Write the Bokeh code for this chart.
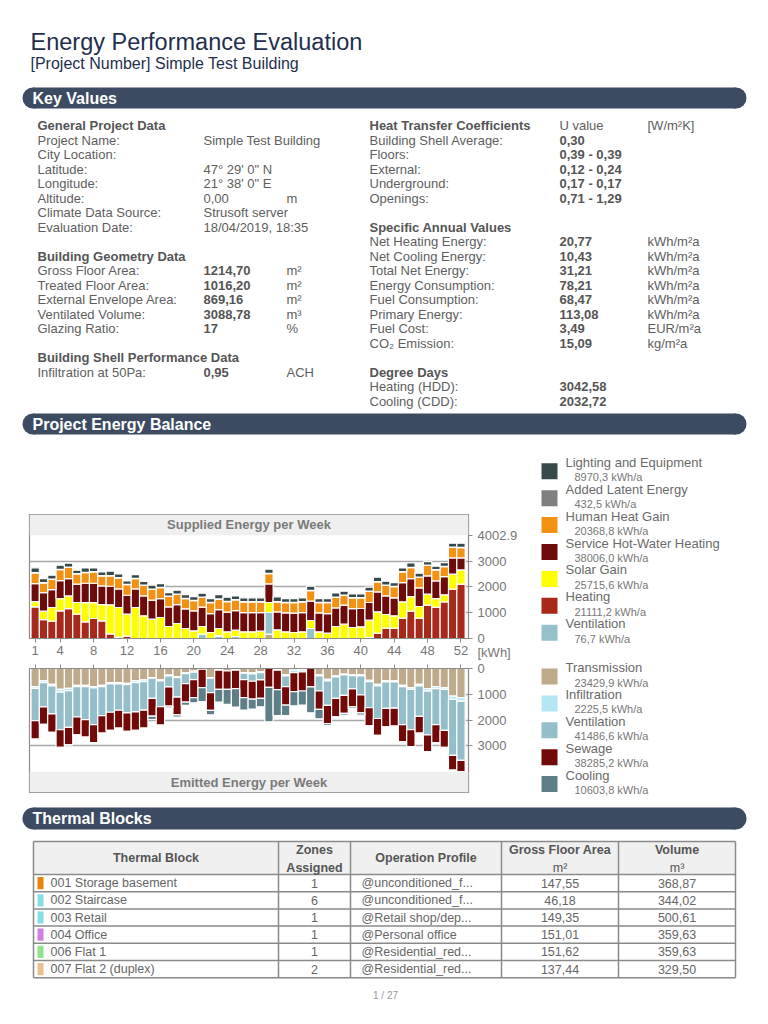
from bokeh.plotting import figure
from bokeh.layouts import column, row
from bokeh.models import Range1d, FixedTicker, BoxAnnotation, Label, ColumnDataSource
from bokeh.core.properties import value
from bokeh.embed import file_html
from bokeh.resources import INLINE

FONT = "Liberation Sans"
NAVY = "#1f2f4d"
BAND = "#3c4b61"
LBL = "#5e5e5e"
VAL = "#555555"

# ---------------- text content ----------------
TITLE = "Energy Performance Evaluation"
SUBTITLE = "[Project Number] Simple Test Building"

LEFT_HEADS = [(0, "General Project Data"), (9, "Building Geometry Data"), (16, "Building Shell Performance Data")]
LEFT_ROWS = [
    (1, "Project Name:", "Simple Test Building", "", False),
    (2, "City Location:", "", "", False),
    (3, "Latitude:", "47° 29' 0\" N", "", False),
    (4, "Longitude:", "21° 38' 0\" E", "", False),
    (5, "Altitude:", "0,00", "m", False),
    (6, "Climate Data Source:", "Strusoft server", "", False),
    (7, "Evaluation Date:", "18/04/2019, 18:35", "", False),
    (10, "Gross Floor Area:", "1214,70", "m²", True),
    (11, "Treated Floor Area:", "1016,20", "m²", True),
    (12, "External Envelope Area:", "869,16", "m²", True),
    (13, "Ventilated Volume:", "3088,78", "m³", True),
    (14, "Glazing Ratio:", "17", "%", True),
    (17, "Infiltration at 50Pa:", "0,95", "ACH", True),
]
RIGHT_HEADS = [(0, "Heat Transfer Coefficients"), (7, "Specific Annual Values"), (17, "Degree Days")]
RIGHT_ROWS = [
    (0, "", "U value", "[W/m²K]", False),
    (1, "Building Shell Average:", "0,30", "", True),
    (2, "Floors:", "0,39 - 0,39", "", True),
    (3, "External:", "0,12 - 0,24", "", True),
    (4, "Underground:", "0,17 - 0,17", "", True),
    (5, "Openings:", "0,71 - 1,29", "", True),
    (8, "Net Heating Energy:", "20,77", "kWh/m²a", True),
    (9, "Net Cooling Energy:", "10,43", "kWh/m²a", True),
    (10, "Total Net Energy:", "31,21", "kWh/m²a", True),
    (11, "Energy Consumption:", "78,21", "kWh/m²a", True),
    (12, "Fuel Consumption:", "68,47", "kWh/m²a", True),
    (13, "Primary Energy:", "113,08", "kWh/m²a", True),
    (14, "Fuel Cost:", "3,49", "EUR/m²a", True),
    (15, "CO₂ Emission:", "15,09", "kg/m²a", True),
    (18, "Heating (HDD):", "3042,58", "", True),
    (19, "Cooling (CDD):", "2032,72", "", True),
]

# ---------------- chart data (kWh per week) ----------------
WEEKS = list(range(1, 53))
WEEK_TICKS = [1, 4, 8, 12, 16, 20, 24, 28, 32, 36, 40, 44, 48, 52]
Y_TICKS_TOP = [0, 1000, 2000, 3000, 4002.9]
Y_TICKS_BOTTOM = [0, 1000, 2000, 3000]
Y_MAX = 4002.9
Y_UNIT = "[kWh]"

trans_gain = [0]*28 + [168] + [0]*23
vent_supplied = [0]*20 + [168, 0, 103, 0, 77, 0, 0, 0, 839, 0, 0, 0, 0, 387] + [0]*18
heating = [1226, 735, 671, 1071, 1161, 942, 645, 774, 684, 181,
           52, 90, 0, 0, 0, 0, 0, 0, 0, 0,
           0, 0, 0, 0, 0, 0, 0, 0, 0, 0,
           0, 0, 0, 0, 0, 0, 0, 0, 0, 0,
           39, 206, 400, 400, 787, 1058, 787, 1290, 1213, 1419,
           1909, 2103]
solar = [206, 323, 529, 477, 490, 452, 748, 619, 632, 1122,
         1148, 851, 1200, 877, 748, 813, 464, 581, 387, 297,
         297, 232, 284, 258, 245, 258, 258, 284, 387, 335,
         258, 232, 258, 310, 258, 206, 464, 555, 426, 452,
         671, 826, 529, 477, 632, 568, 452, 426, 335, 271,
         581, 555]
hot_water = [697, 722, 697, 697, 671, 710, 748, 748, 722, 722,
             722, 735, 722, 774, 735, 735, 761, 735, 761, 774,
             748, 735, 735, 761, 761, 748, 748, 722, 722, 697,
             735, 748, 748, 748, 735, 761, 722, 735, 735, 710,
             684, 774, 722, 697, 748, 697, 722, 710, 684, 710,
             632, 464]
human = [413, 374, 400, 426, 439, 400, 413, 439, 387, 400,
         426, 413, 400, 413, 426, 426, 413, 400, 400, 400,
         387, 426, 400, 413, 413, 413, 413, 413, 400, 387,
         400, 413, 413, 413, 400, 426, 413, 387, 413, 413,
         439, 387, 413, 439, 413, 426, 413, 413, 426, 387,
         413, 400]
latent = [10, 8, 8, 10, 8, 8, 10, 8, 8, 10,
          8, 8, 8, 8, 8, 8, 8, 8, 8, 8,
          8, 8, 10, 8, 8, 8, 8, 8, 10, 10,
          8, 8, 8, 8, 8, 8, 8, 8, 8, 8,
          8, 10, 8, 8, 8, 10, 8, 8, 8, 8,
          8, 10]
lighting = [184, 160, 147, 158, 147, 134, 171, 147, 147, 171,
            147, 134, 142, 142, 147, 147, 134, 147, 147, 147,
            147, 147, 171, 160, 147, 147, 147, 147, 158, 184,
            147, 147, 147, 160, 147, 142, 160, 147, 147, 147,
            147, 171, 147, 147, 147, 171, 147, 134, 134, 147,
            147, 158]

transmission = [704, 482, 613, 808, 769, 652, 652, 704, 652, 548,
                548, 574, 482, 443, 351, 442, 260, 312, 169, 104,
                26, 351, 65, 91, 65, 156, 169, 117, 0, 65,
                247, 65, 52, 0, 247, 416, 286, 221, 247, 247,
                455, 611, 481, 482, 652, 743, 613, 782, 704, 743,
                1069, 1134]
infiltration = [65, 65, 65, 104, 91, 52, 52, 52, 52, 52,
                52, 52, 65, 65, 26, 39, 26, 39, 26, 39,
                0, 26, 0, 0, 0, 26, 39, 39, 0, 0,
                39, 91, 78, 0, 39, 65, 39, 26, 26, 39,
                52, 65, 39, 39, 52, 65, 65, 91, 78, 65,
                130, 130]
vent_emitted = [1252, 939, 1082, 1460, 1421, 1174, 1278, 1421, 1121, 1095,
                1017, 1095, 1134, 1108, 780, 1001, 429, 754, 390, 286,
                0, 559, 0, 0, 0, 247, 286, 286, 0, 0,
                416, 0, 0, 0, 585, 949, 832, 793, 520, 741,
                1014, 1261, 1027, 1017, 1473, 1565, 1174, 1695, 1395, 1591,
                2165, 2295]
sewage = [717, 678, 717, 678, 678, 691, 678, 691, 678, 704,
          691, 717, 717, 691, 689, 715, 741, 689, 715, 702,
          715, 689, 741, 715, 715, 702, 689, 715, 728, 754,
          715, 741, 741, 715, 715, 702, 715, 702, 689, 689,
          702, 650, 715, 691, 652, 652, 652, 652, 691, 652,
          574, 443]
cooling = [0, 0, 0, 0, 0, 0, 0, 0, 0, 0,
           0, 0, 0, 0, 130, 0, 65, 91, 130, 195,
           546, 169, 494, 585, 715, 481, 390, 325, 1339, 1001,
           403, 546, 546, 1001, 364, 78, 52, 65, 65, 91,
           0, 0, 0, 0, 0, 0, 0, 0, 0, 0,
           0, 0]

SUP_NAMES = ["Lighting and Equipment", "Added Latent Energy", "Human Heat Gain",
             "Service Hot-Water Heating", "Solar Gain", "Heating", "Ventilation"]
SUP_TOTALS = ["8970,3", "432,5", "20368,8", "38006,0", "25715,6", "21111,2", "76,7"]
SUP_COLORS = ["#37494a", "#808080", "#f39114", "#6d0b0b", "#ffff00", "#a8281a", "#96c0ca"]
EMI_NAMES = ["Transmission", "Infiltration", "Ventilation", "Sewage", "Cooling"]
EMI_TOTALS = ["23429,9", "2225,5", "41486,6", "38285,2", "10603,8"]
EMI_COLORS = ["#bfab8c", "#b5e6f3", "#94bfca", "#720909", "#5f7f88"]

# ---------------- thermal blocks table ----------------
TB_HEAD = ["Thermal Block", "Zones|Assigned", "Operation Profile", "Gross Floor Area|m²", "Volume|m³"]
TB_NAMES = ["001 Storage basement", "002 Staircase", "003 Retail", "004 Office", "006 Flat 1", "007 Flat 2 (duplex)"]
TB_COLORS = ["#e8830e", "#86dde8", "#86dde8", "#d17fe0", "#8fe38a", "#e9c08e"]
TB_ZONES = ["1", "6", "1", "1", "1", "2"]
TB_PROFILES = ["@unconditioned_f...", "@unconditioned_f...", "@Retail shop/dep...",
               "@Personal office", "@Residential_red...", "@Residential_red..."]
TB_GFA = ["147,55", "46,18", "149,35", "151,01", "151,62", "137,44"]
TB_VOL = ["368,87", "344,02", "500,61", "359,63", "359,63", "329,50"]


# ---------------- helpers ----------------
def blank(w, h, x0, x1, y0, y1):
    p = figure(width=w, height=h, x_range=Range1d(x0, x1), y_range=Range1d(y1, y0),
               x_axis_type=None, y_axis_type=None, output_backend="svg",
               toolbar_location=None, min_border=0)
    p.grid.visible = False
    p.outline_line_color = None
    p.background_fill_color = "white"
    p.border_fill_color = "white"
    return p


def txt(p, xs, ys, texts, size="13px", color=LBL, bold=False, align="left", baseline="middle"):
    p.text(x=xs, y=ys, text=texts, text_font=value(FONT), text_font_size=value(size),
           text_color=color, text_font_style="bold" if bold else "normal",
           text_align=align, text_baseline=baseline)


def band(p, y_top, y_bot, label):
    yc = (y_top + y_bot) / 2
    h = y_bot - y_top
    r = h / 2
    p.quad(left=22 + r, right=746 - r, top=y_top, bottom=y_bot, color=BAND, line_color=None)
    p.scatter(x=[22 + r, 746 - r], y=[yc, yc], size=h, marker="circle", color=BAND, line_color=None)
    txt(p, [32], [yc], [label], size="16px", color="white", bold=True)


# ---------------- top section ----------------
pa = blank(760, 445, 0, 760, 0, 445)
txt(pa, [30], [41], [TITLE], size="23.5px", color=NAVY, baseline="alphabetic")
txt(pa, [30], [63], [SUBTITLE], size="16px", color=NAVY, baseline="alphabetic")
band(pa, 87, 108, "Key Values")

L0, LS = 125, 14.5
txt(pa, [37] * len(LEFT_HEADS), [L0 + LS * i for i, _ in LEFT_HEADS], [t for _, t in LEFT_HEADS], color=VAL, bold=True)
txt(pa, [37] * len(LEFT_ROWS), [L0 + LS * r[0] for r in LEFT_ROWS], [r[1] for r in LEFT_ROWS])
for bold in (False, True):
    rows = [r for r in LEFT_ROWS if r[4] == bold]
    txt(pa, [203] * len(rows), [L0 + LS * r[0] for r in rows], [r[2] for r in rows], color=VAL if bold else LBL, bold=bold)
txt(pa, [286] * len(LEFT_ROWS), [L0 + LS * r[0] for r in LEFT_ROWS], [r[3] for r in LEFT_ROWS])

txt(pa, [369] * len(RIGHT_HEADS), [L0 + LS * i for i, _ in RIGHT_HEADS], [t for _, t in RIGHT_HEADS], color=VAL, bold=True)
txt(pa, [369] * len(RIGHT_ROWS), [L0 + LS * r[0] for r in RIGHT_ROWS], [r[1] for r in RIGHT_ROWS])
for bold in (False, True):
    rows = [r for r in RIGHT_ROWS if r[4] == bold]
    txt(pa, [559] * len(rows), [L0 + LS * r[0] for r in rows], [r[2] for r in rows], color=VAL if bold else LBL, bold=bold)
txt(pa, [647] * len(RIGHT_ROWS), [L0 + LS * r[0] for r in RIGHT_ROWS], [r[3] for r in RIGHT_ROWS])

band(pa, 413, 434, "Project Energy Balance")

# ---------------- charts ----------------
Y_END = Y_MAX * 1.2
X_START, X_END = 0.32, 52.9
sup_src = ColumnDataSource(dict(week=WEEKS, trans_gain=trans_gain, vent_s=vent_supplied, heating=heating,
                                solar=solar, hot_water=hot_water, human=human, latent=latent, lighting=lighting))
SUP_KEYS = ["trans_gain", "vent_s", "heating", "solar", "hot_water", "human", "latent", "lighting"]
SUP_STACK_COLORS = [EMI_COLORS[0], SUP_COLORS[6], SUP_COLORS[5], SUP_COLORS[4], SUP_COLORS[3],
                    SUP_COLORS[2], SUP_COLORS[1], SUP_COLORS[0]]
emi_src = ColumnDataSource(dict(week=WEEKS, transmission=transmission, infiltration=infiltration,
                                vent_e=vent_emitted, sewage=sewage, cooling=cooling))
EMI_KEYS = ["transmission", "infiltration", "vent_e", "sewage", "cooling"]


def style_chart(p, yticks):
    p.outline_line_color = "#8c8c8c"
    p.outline_line_width = 1.2
    p.xgrid.visible = False
    p.ygrid.ticker = FixedTicker(ticks=[1000, 2000, 3000])
    p.ygrid.grid_line_color = "#a9a9a9"
    p.ygrid.grid_line_width = 1.6
    p.yaxis.ticker = FixedTicker(ticks=yticks)
    p.yaxis.major_label_overrides = {t: f"{t:g}" for t in yticks}
    for ax in (p.xaxis[0], p.yaxis[0]):
        ax.axis_line_color = "#8c8c8c"
        ax.major_tick_line_color = "#8c8c8c"
        ax.major_tick_out = 4
        ax.major_tick_in = 0
        ax.minor_tick_line_color = None
        ax.major_label_text_font = FONT
        ax.major_label_text_font_size = "13px"
        ax.major_label_text_color = "#767676"
    p.xaxis.ticker = FixedTicker(ticks=WEEK_TICKS)


p1 = figure(width=525, height=217, x_range=Range1d(X_START, X_END), y_range=Range1d(0, Y_END),
            y_axis_location="right", output_backend="svg", toolbar_location=None,
            min_border_left=29, min_border_right=57, min_border_top=69, min_border_bottom=24)
p1.vbar_stack(SUP_KEYS, x="week", width=1.0, color=SUP_STACK_COLORS, line_color="white",
              line_width=1.2, source=sup_src)
style_chart(p1, Y_TICKS_TOP)
# zero label carries the unit on a line below it
p1.yaxis.major_label_overrides = {**{t: f"{t:g}" for t in Y_TICKS_TOP}, 0: "\n0\n" + Y_UNIT}
p1.yaxis.major_label_text_line_height = 0.9
p1.xaxis.major_label_standoff = 3
p1.add_layout(BoxAnnotation(bottom=Y_MAX, top=Y_END, fill_color="#efefef", fill_alpha=1, line_color=None))
p1.add_layout(Label(x=(X_START + X_END) / 2, y=(Y_MAX + Y_END) / 2, text="Supplied Energy per Week",
                    text_font=FONT, text_font_size="13px", text_font_style="bold", text_color="#7a7a7a",
                    text_align="center", text_baseline="middle"))

p2 = figure(width=525, height=138, x_range=p1.x_range, y_range=Range1d(Y_END, 0),
            x_axis_location="above", y_axis_location="right", output_backend="svg", toolbar_location=None,
            min_border_left=29, min_border_right=57, min_border_top=6, min_border_bottom=8)
p2.vbar_stack(EMI_KEYS, x="week", width=1.0, color=EMI_COLORS, line_color="white",
              line_width=1.2, source=emi_src)
style_chart(p2, Y_TICKS_BOTTOM)
p2.xaxis.major_label_text_font_size = "1px"
p2.xaxis.major_label_text_alpha = 0
p2.xaxis.major_label_standoff = 0
p2.add_layout(BoxAnnotation(bottom=Y_MAX, top=Y_END, fill_color="#efefef", fill_alpha=1, line_color=None))
p2.add_layout(Label(x=(X_START + X_END) / 2, y=(Y_MAX + Y_END) / 2, text="Emitted Energy per Week",
                    text_font=FONT, text_font_size="13px", text_font_style="bold", text_color="#7a7a7a",
                    text_align="center", text_baseline="middle"))

# legend
pl = blank(235, 355, 525, 760, 445, 800)
for names, totals, colors, y0 in ((SUP_NAMES, SUP_TOTALS, SUP_COLORS, 470.8),
                                  (EMI_NAMES, EMI_TOTALS, EMI_COLORS, 676.0)):
    ys = [y0 + 26.9 * i for i in range(len(names))]
    pl.rect(x=[549] * len(ys), y=ys, width=16, height=16, width_units="screen", height_units="screen",
            color=colors, line_color=None)
    txt(pl, [565] * len(ys), [y - 9 for y in ys], names, size="13px", color="#6a6a6a")
    txt(pl, [574] * len(ys), [y + 6 for y in ys], [t + " kWh/a" for t in totals], size="11px", color="#777777")

# ---------------- bottom section ----------------
pc = blank(760, 216, 0, 760, 800, 1016)
band(pc, 807, 829, "Thermal Blocks")
COLS = [33, 278, 350, 501, 618, 735]
HTOP, HBOT, RH = 841, 874, 17.2
rows_y = [HBOT + RH * i for i in range(len(TB_NAMES) + 1)]
pc.quad(left=COLS[0], right=COLS[-1], top=HTOP, bottom=HBOT, color="#f0f0f0", line_color=None)
pc.segment(x0=[COLS[0]] * (len(rows_y) + 1), x1=[COLS[-1]] * (len(rows_y) + 1),
           y0=[HTOP] + rows_y, y1=[HTOP] + rows_y, line_color="#8a8a8a", line_width=1.5)
pc.segment(x0=COLS, x1=COLS, y0=[HTOP] * len(COLS), y1=[rows_y[-1]] * len(COLS),
           line_color="#8a8a8a", line_width=1.5)
centers = [(COLS[i] + COLS[i + 1]) / 2 for i in range(5)]
hmid = (HTOP + HBOT) / 2
for c, h in zip(centers, TB_HEAD):
    parts = h.split("|")
    if len(parts) == 1:
        txt(pc, [c], [hmid], parts, size="12.5px", color=VAL, bold=True, align="center")
    else:
        txt(pc, [c], [hmid - 8.5], [parts[0]], size="12.5px", color=VAL, bold=True, align="center")
        txt(pc, [c], [hmid + 9.5], [parts[1]], size="12.5px", color=VAL, bold=not parts[1].startswith("m"),
            align="center")
ymid = [rows_y[i] + RH / 2 for i in range(len(TB_NAMES))]
pc.quad(left=[37] * len(ymid), right=[43] * len(ymid), top=[y - RH / 2 + 2.5 for y in ymid],
        bottom=[y + RH / 2 - 2.5 for y in ymid], color=TB_COLORS, line_color=None)
txt(pc, [50] * len(ymid), ymid, TB_NAMES, size="12.5px", color="#666666")
txt(pc, [centers[1]] * len(ymid), ymid, TB_ZONES, size="12.5px", color="#666666", align="center")
txt(pc, [361] * len(ymid), ymid, TB_PROFILES, size="12.5px", color="#666666")
txt(pc, [centers[3]] * len(ymid), ymid, TB_GFA, size="12.5px", color="#666666", align="center")
txt(pc, [centers[4]] * len(ymid), ymid, TB_VOL, size="12.5px", color="#666666", align="center")
txt(pc, [385], [995], ["1 / 27"], size="10px", color="#999999", align="center")

layout = column(pa, row(column(p1, p2), pl), pc)
open("out.html", "w").write(file_html(layout, INLINE))
